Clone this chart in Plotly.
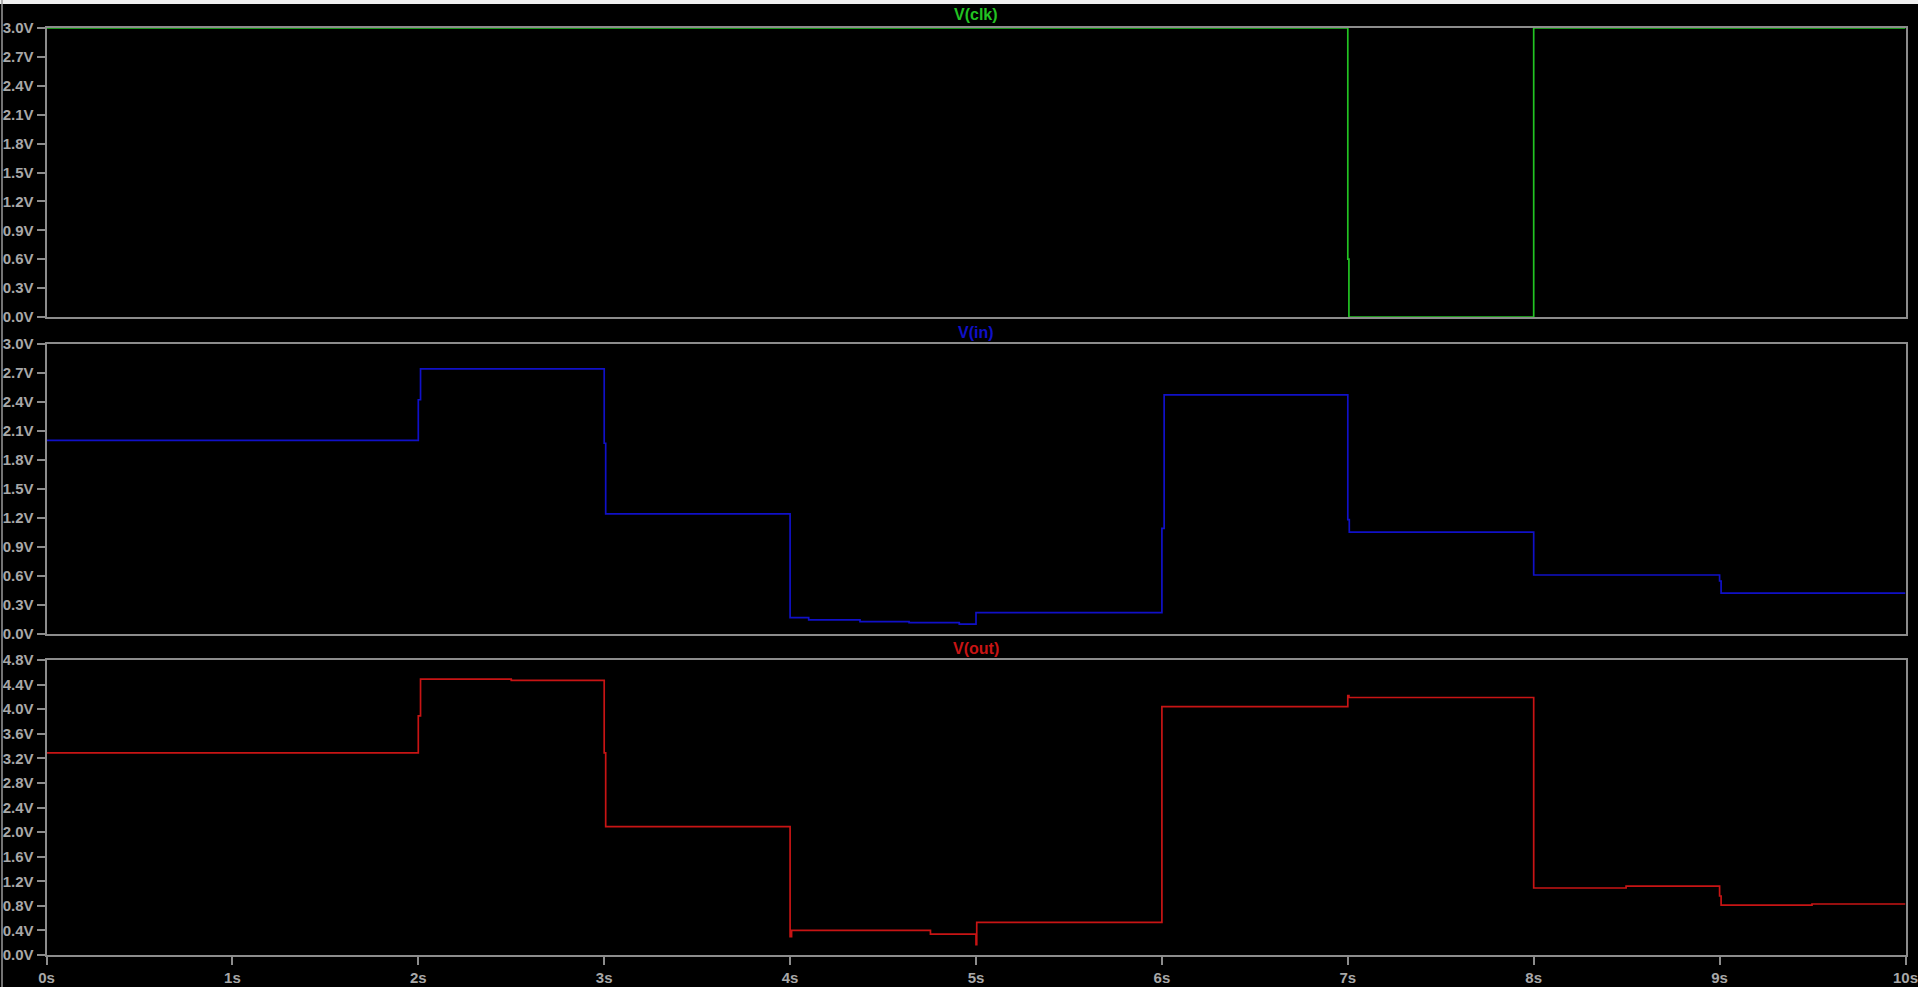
import plotly.graph_objects as go

W, H = 1918, 987

# ---- data ----
t_clk = [0, 7.0, 7.006, 8.0, 10]
v_clk = [3.0, 0.6, 0.0, 3.0, 3.0]

t_in = [0, 2.0, 2.012, 3.0, 3.008, 4.0, 4.10, 4.376, 4.64, 4.91, 5.0,
        6.0, 6.012, 7.0, 7.008, 8.0, 9.0, 9.008, 10]
v_in = [2.00, 2.42, 2.74, 1.97, 1.24, 0.166, 0.142, 0.124, 0.114, 0.10, 0.217,
        1.09, 2.47, 1.18, 1.05, 0.607, 0.545, 0.42, 0.42]

t_out = [0, 2.0, 2.012, 2.50, 3.0, 3.008, 4.0, 4.008, 4.755, 5.0, 5.004,
         6.0, 7.0, 7.006, 8.0, 8.497, 9.0, 9.008, 9.497, 10]
v_out = [3.29, 3.89, 4.49, 4.47, 3.29, 2.09, 0.30, 0.40, 0.34, 0.17, 0.53,
         4.04, 4.22, 4.19, 1.09, 1.12, 0.96, 0.81, 0.83, 0.83]

titles = ["V(clk)", "V(in)", "V(out)"]
x_ticks = list(range(0, 11))
x_tick_text = [f"{v}s" for v in x_ticks]
y_ticks_a = [round(0.3 * i, 1) for i in range(11)]
y_ticks_c = [round(0.4 * i, 1) for i in range(13)]

colors = ["#22c322", "#1010c8", "#c81414"]
grey = "#8c8c8c"
label_grey = "#a8a8a8"
FONT = "Liberation Sans, Arial, sans-serif"

# pane pixel extents (top, bottom)
panes = [(28, 317), (343.7, 633.7), (660, 955)]
x_left, x_right = 46.5, 1905.5
title_y = [15, 332.5, 648]

fig = go.Figure()
series = [(t_clk, v_clk), (t_in, v_in), (t_out, v_out)]
for i, (t, v) in enumerate(series):
    fig.add_trace(go.Scatter(
        x=t, y=v, mode="lines", line=dict(color=colors[i], width=1.7, shape="hv"),
        xaxis=f"x{i+1}" if i else "x", yaxis=f"y{i+1}" if i else "y",
        showlegend=False, hoverinfo="skip"))

layout = dict(
    width=W, height=H, margin=dict(l=0, r=0, t=0, b=0),
    paper_bgcolor="black", plot_bgcolor="black", showlegend=False,
)
xdom = [x_left / W, x_right / W]
for i, (top, bot) in enumerate(panes):
    ydom = [1 - bot / H, 1 - top / H]
    sfx = str(i + 1) if i else ""
    last = i == 2
    layout["xaxis" + sfx] = dict(
        domain=xdom, range=[0, 10], anchor="y" + sfx,
        showline=True, linecolor=grey, linewidth=2, mirror=True,
        showgrid=False, zeroline=False,
        tickvals=x_ticks, ticktext=x_tick_text,
        showticklabels=last, ticks="outside" if last else "",
        ticklen=8, tickwidth=1.5, tickcolor=grey,
        ticklabeloverflow="allow",
        tickfont=dict(family=FONT, size=15, color=label_grey, weight="bold"),
        automargin=False, fixedrange=True,
    )
    yt = y_ticks_c if last else y_ticks_a
    layout["yaxis" + sfx] = dict(
        domain=ydom, range=[0, yt[-1]], anchor="x" + sfx,
        showline=True, linecolor=grey, linewidth=2, mirror=True,
        showgrid=False, zeroline=False,
        tickvals=yt, ticktext=[f"{v:.1f}V" for v in yt],
        ticks="outside", ticklen=8, tickwidth=1.5, tickcolor=grey,
        ticklabeloverflow="allow",
        tickfont=dict(family=FONT, size=15, color=label_grey, weight="bold"),
        automargin=False, fixedrange=True,
    )

fig.update_layout(**layout)

for i, name in enumerate(titles):
    fig.add_annotation(
        text=name, xref="paper", yref="paper",
        x=(x_left + x_right) / 2 / W, y=1 - title_y[i] / H,
        xanchor="center", yanchor="middle", showarrow=False,
        font=dict(family=FONT, size=16, color=colors[i], weight="bold"))

# window chrome strip at the top and left edge line
fig.add_shape(type="rect", xref="paper", yref="paper", x0=0, x1=1,
              y0=1 - 4 / H, y1=1, fillcolor="#f0f0f0", line=dict(width=0), layer="above")
fig.add_shape(type="line", xref="paper", yref="paper", x0=2 / W, x1=2 / W,
              y0=0, y1=1, line=dict(color="#9a9a9a", width=1.5), layer="above")

fig.write_html("out.html")
